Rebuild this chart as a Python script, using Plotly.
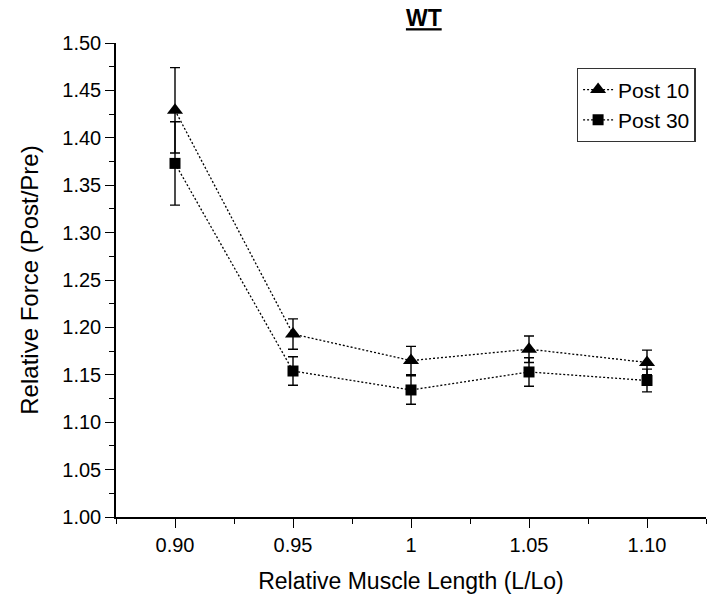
import plotly.graph_objects as go

x_vals = [0.90, 0.95, 1.00, 1.05, 1.10]
post10 = [1.429, 1.193, 1.165, 1.177, 1.163]
post10_err = [0.045, 0.016, 0.015, 0.014, 0.013]
post30 = [1.373, 1.154, 1.134, 1.153, 1.144]
post30_err = [0.044, 0.015, 0.015, 0.015, 0.012]
x_tickvals = [0.90, 0.95, 1.00, 1.05, 1.10]
x_ticktext = ["0.90", "0.95", "1", "1.05", "1.10"]
y_tickvals = [1.00, 1.05, 1.10, 1.15, 1.20, 1.25, 1.30, 1.35, 1.40, 1.45, 1.50]
y_ticktext = ["1.00", "1.05", "1.10", "1.15", "1.20", "1.25", "1.30", "1.35", "1.40", "1.45", "1.50"]

FONT = "Liberation Sans, Arial, sans-serif"

fig = go.Figure()
fig.add_trace(go.Scatter(
    x=x_vals, y=post10, name="Post 10", mode="lines+markers",
    line=dict(color="black", width=1.3, dash="2px,2px"),
    marker=dict(symbol="triangle-up", size=14, color="black"),
    error_y=dict(type="data", array=post10_err, visible=True, color="black", thickness=1.4, width=5),
))
fig.add_trace(go.Scatter(
    x=x_vals, y=post30, name="Post 30", mode="lines+markers",
    line=dict(color="black", width=1.3, dash="2px,2px"),
    marker=dict(symbol="square", size=11, color="black"),
    error_y=dict(type="data", array=post30_err, visible=True, color="black", thickness=1.4, width=5),
))

fig.update_layout(
    width=722, height=605,
    margin=dict(l=116, r=16, t=43, b=88),
    paper_bgcolor="white", plot_bgcolor="white",
    font=dict(family=FONT, color="black", size=20),
    title=dict(text="<b><u>WT</u></b>", x=0.587, xanchor="center", y=0.97, yanchor="middle",
               font=dict(family=FONT, size=23, color="black")),
    showlegend=True,
    legend=dict(x=0.781, y=0.947, xanchor="left", yanchor="top",
                bordercolor="#333333", borderwidth=1.3, bgcolor="white",
                font=dict(family=FONT, size=21, color="black"),
                tracegroupgap=0, itemwidth=30),
    xaxis=dict(
        range=[0.875, 1.125], tickvals=x_tickvals, ticktext=x_ticktext,
        showline=True, linecolor="black", linewidth=1.5, mirror=False,
        ticks="outside", ticklen=9, tickwidth=1.4, tickcolor="black",
        showgrid=False, zeroline=False,
        minor=dict(ticks="outside", ticklen=5, tickwidth=1.4, tickcolor="black", dtick=0.025, tick0=0.875),
        title=dict(text="Relative Muscle Length (L/Lo)", font=dict(family=FONT, size=23), standoff=18),
        tickfont=dict(family=FONT, size=20),
    ),
    yaxis=dict(
        range=[1.0, 1.5], tickvals=y_tickvals, ticktext=y_ticktext,
        showline=True, linecolor="black", linewidth=1.5, mirror=False,
        ticks="outside", ticklen=9, tickwidth=1.4, tickcolor="black",
        showgrid=False, zeroline=False,
        minor=dict(ticks="outside", ticklen=5, tickwidth=1.4, tickcolor="black", dtick=0.025, tick0=1.0),
        title=dict(text="Relative Force (Post/Pre)", font=dict(family=FONT, size=24), standoff=17),
        tickfont=dict(family=FONT, size=20),
    ),
)

fig.write_html("out.html")
